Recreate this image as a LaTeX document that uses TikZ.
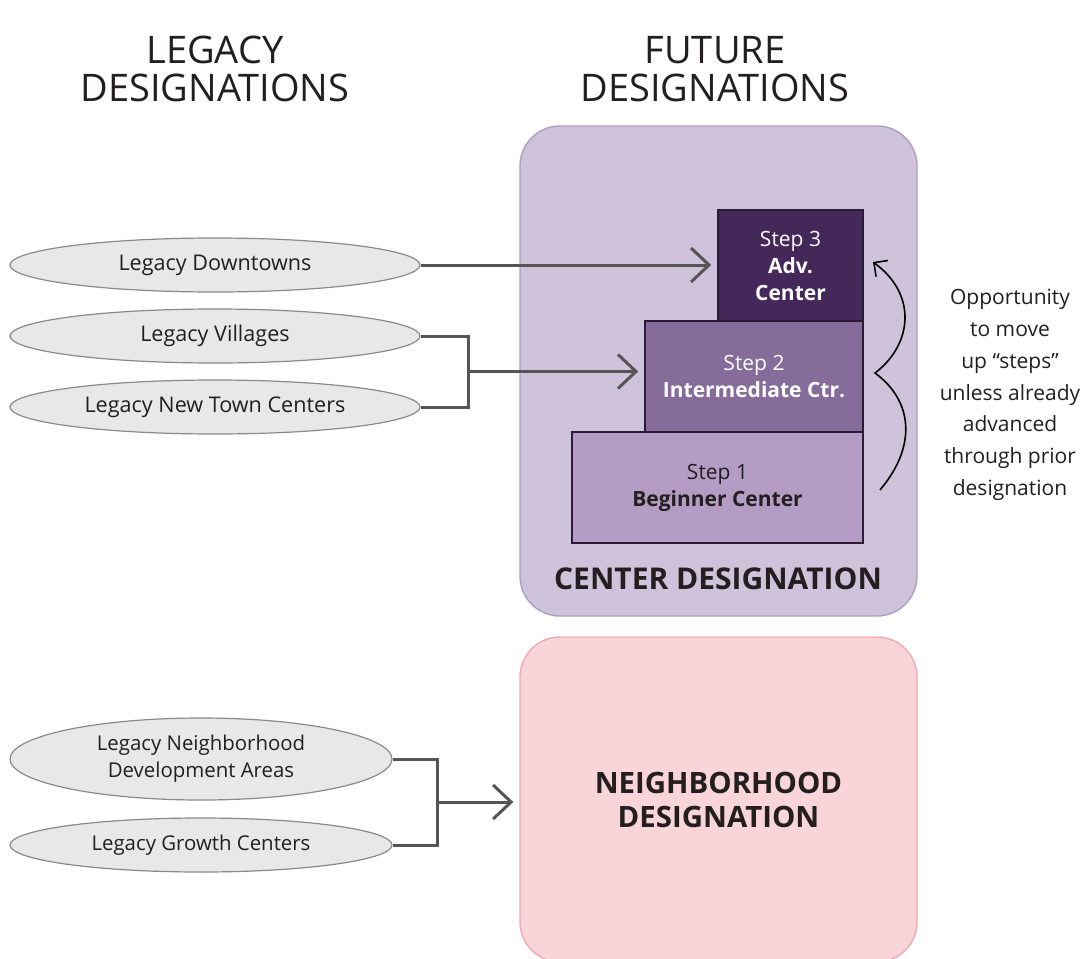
\documentclass[tikz,border=0pt]{standalone}
\usepackage{fontspec}
\setmainfont{Open Sans}
\usetikzlibrary{shapes.geometric,arrows.meta}

\definecolor{ctrfill}{HTML}{CEC3DA}
\definecolor{ctrline}{HTML}{AD9FC2}
\definecolor{stepthree}{HTML}{45285A}
\definecolor{steptwo}{HTML}{866C9A}
\definecolor{stepone}{HTML}{B49CC4}
\definecolor{stepline}{HTML}{2B1A38}
\definecolor{ellfill}{HTML}{E8E8E8}
\definecolor{ellline}{HTML}{8A8A8A}
\definecolor{connclr}{HTML}{555555}
\definecolor{nbhfill}{HTML}{F9D4D8}
\definecolor{nbhline}{HTML}{F1A9B0}
\definecolor{txtclr}{HTML}{231F20}

\begin{document}
\begin{tikzpicture}[x=0.5pt,y=-0.5pt,
    every node/.style={text=txtclr, font=\fontsize{10.5}{13.5}\selectfont},
    legacy/.style={draw=ellline, fill=ellfill, ellipse, line width=0.6pt,
      minimum height=27pt, inner sep=0pt, align=center},
    stepbox/.style={draw=stepline, line width=0.8pt, minimum height=55.5pt,
      inner sep=0pt, align=center},
    bigbox/.style={rounded corners=20pt, minimum width=198.5pt, line width=0.7pt},
    title/.style={font=\fontsize{19}{19}\selectfont, align=center},
    conn/.style={draw=connclr, line width=1.5pt,
      -{Straight Barb[length=9pt,width=17pt]}},
    bracket/.style={draw=connclr, line width=1.5pt}]

  \useasboundingbox (0,0) rectangle (1086,958);

  % Column titles
  \node[title] (ttlleg) at (215,69) {LEGACY\\DESIGNATIONS};
  \node[title] (ttlfut) at (715,69) {FUTURE\\DESIGNATIONS};

  % Future designation boxes
  \node[bigbox, draw=ctrline, fill=ctrfill, minimum height=245pt] (ctr) at (718.5,371) {};
  \node[font=\fontsize{15}{17}\bfseries] (ctrlbl) at (718,579) {CENTER DESIGNATION};
  \node[bigbox, draw=nbhline, fill=nbhfill, minimum height=162.5pt,
    font=\fontsize{14.7}{17}\bfseries, align=center] (nbh) at (718.5,799.5)
    {NEIGHBORHOOD\\DESIGNATION};

  % The three steps
  \node[stepbox, fill=stepone, minimum width=145.5pt] (step1) at (717.5,487.5)
    {Step 1\\\textbf{Beginner Center}};
  \node[stepbox, fill=steptwo, minimum width=109pt, text=white] (step2) at (754,376.5)
    {Step 2\\\textbf{Intermediate Ctr.}};
  \node[stepbox, fill=stepthree, minimum width=72.5pt, text=white] (step3) at (790.5,265.5)
    {Step 3\\\textbf{Adv.}\\\textbf{Center}};

  % Legacy ellipses
  \foreach \name/\y/\txt in {dt/265/Legacy Downtowns, vil/336/Legacy Villages,
      ntc/407/Legacy New Town Centers} {
    \node[legacy, minimum width=205pt, font=\fontsize{10.8}{13.5}\selectfont]
      (\name) at (215,\y) {\txt};
  }
  \node[legacy, minimum width=191pt, minimum height=41pt,
    font=\fontsize{10.2}{13.5}\selectfont] (nda) at (201,759)
    {Legacy Neighborhood\\Development Areas};
  \node[legacy, minimum width=191pt, font=\fontsize{10.2}{13.5}\selectfont]
    (grc) at (201,845) {Legacy Growth Centers};

  % Connectors
  \draw[conn, shorten >=3pt] (dt.east) -- (dt.east -| step3.west);

  \coordinate (jvil) at (468,371.5);
  \draw[bracket] (vil.east) -| (jvil) |- (ntc.east);
  \draw[conn, shorten >=3pt] (jvil) -- (jvil -| step2.west);

  \coordinate (jnbh) at (437,802);
  \draw[bracket] (nda.east) -| (jnbh) |- (grc.east);
  \draw[conn, shorten >=3pt] (jnbh) -- (jnbh -| nbh.west);

  % Moving up the steps
  \coordinate (up0) at (880,490);
  \coordinate (up1) at (875,373);
  \coordinate (up2) at (873,262);
  \draw[line width=0.8pt, -{Straight Barb[length=5pt,width=10pt]}]
    (up0) .. controls (918,445) and (912,400) .. (up1)
          .. controls (912,345) and (918,295) .. (up2);
  \node[align=center, font=\fontsize{10.5}{15.9}\selectfont] (opp) at (1010,395)
    {Opportunity\\to move\\up “steps”\\unless already\\advanced\\through prior\\designation};

\end{tikzpicture}
\end{document}
